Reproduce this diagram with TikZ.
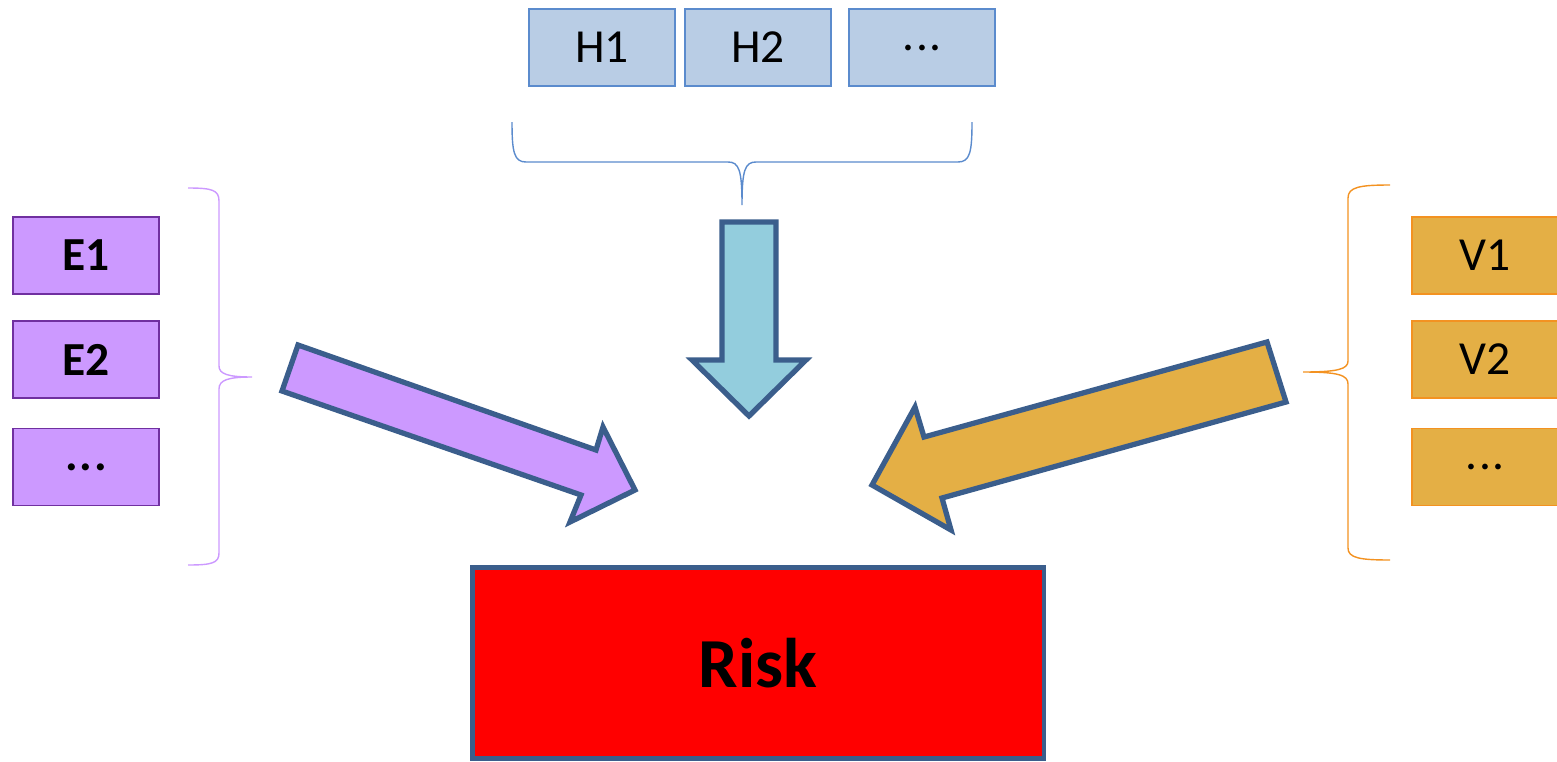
\documentclass[tikz,border=0pt]{standalone}
\usepackage{fontspec}
\setmainfont{Carlito}
\begin{document}
\begin{tikzpicture}[x=0.02cm,y=-0.02cm,
  box/.style={draw,line width=1.1pt,minimum width=2.92cm,minimum height=1.54cm,inner sep=0pt,
    font=\fontsize{27}{30}\selectfont},
  fatarrow/.style={draw=kArrow,line width=3pt,line join=miter},
  brace/.style={line width=0.8pt}]
  \definecolor{kHFill}{RGB}{185,205,229}
  \definecolor{kHDraw}{RGB}{91,139,205}
  \definecolor{kEFill}{RGB}{204,153,255}
  \definecolor{kEDraw}{RGB}{112,48,160}
  \definecolor{kVFill}{RGB}{228,175,69}
  \definecolor{kVDraw}{RGB}{243,146,33}
  \definecolor{kArrow}{RGB}{59,94,140}
  \definecolor{kDown}{RGB}{147,205,221}

  \useasboundingbox (0,0) rectangle (1557,761);

  \foreach \n/\x/\t in {h1/602/H1, h2/758/H2, h3/922/{.\kern1pt.\kern1pt.}}
    \node[box,draw=kHDraw,fill=kHFill] (\n) at (\x,47.5) {\t};

  \foreach \n/\y/\t in {1/255.5/E1, 2/359.5/E2, 3/467/{.\kern1pt.\kern1pt.}}
  {
    \node[box,draw=kEDraw,fill=kEFill,font=\fontsize{27}{30}\selectfont\bfseries] (e\n) at (86,\y) {\t};
  }
  \foreach \n/\y/\t in {1/255.5/V1, 2/359.5/V2, 3/467/{.\kern1pt.\kern1pt.}}
  {
    \node[box,draw=kVDraw,fill=kVFill] (v\n) at (1485,\y) {\t};
  }

  \node[draw=kArrow,fill=red,line width=2.8pt,minimum width=11.44cm,minimum height=3.82cm,
    inner sep=0pt,font=\fontsize{40}{44}\selectfont\bfseries] (risk) at (758,663) {Risk};

  \draw[brace,color=kHDraw] (512,122) .. controls (512,152) and (514,162) .. (526,162) -- (728,162)
    .. controls (739,162) and (742,170) .. (742,205)
    .. controls (742,170) and (745,162) .. (756,162) -- (958,162)
    .. controls (970,162) and (972,152) .. (972,122);
  \draw[brace,color=kEFill] (188,188) .. controls (212,188) and (219,190) .. (219,201) -- (219,366)
    .. controls (219,374) and (228,377) .. (252,377)
    .. controls (228,377) and (219,380) .. (219,389) -- (219,553)
    .. controls (219,563) and (212,565) .. (188,565);
  \draw[brace,color=kVDraw] (1390,185) .. controls (1360,185) and (1348,187) .. (1348,198) -- (1348,361)
    .. controls (1348,369) and (1338,372) .. (1303,372)
    .. controls (1338,372) and (1348,375) .. (1348,384) -- (1348,548)
    .. controls (1348,558) and (1360,560) .. (1390,560);

  \draw[fatarrow,fill=kDown] (722,222) -- (776,222) -- (776,360) -- (806,360) -- (749,416)
    -- (692,360) -- (722,360) -- cycle;
  \draw[fatarrow,fill=kEFill] (298,345) -- (596,450) -- (603,427) -- (635,490) -- (570,522)
    -- (581,495) -- (282,391) -- cycle;
  \draw[fatarrow,fill=kVFill] (1267,342) -- (924,437) -- (915,407) -- (872,485) -- (951,530)
    -- (942,498) -- (1286,402) -- cycle;
\end{tikzpicture}
\end{document}
